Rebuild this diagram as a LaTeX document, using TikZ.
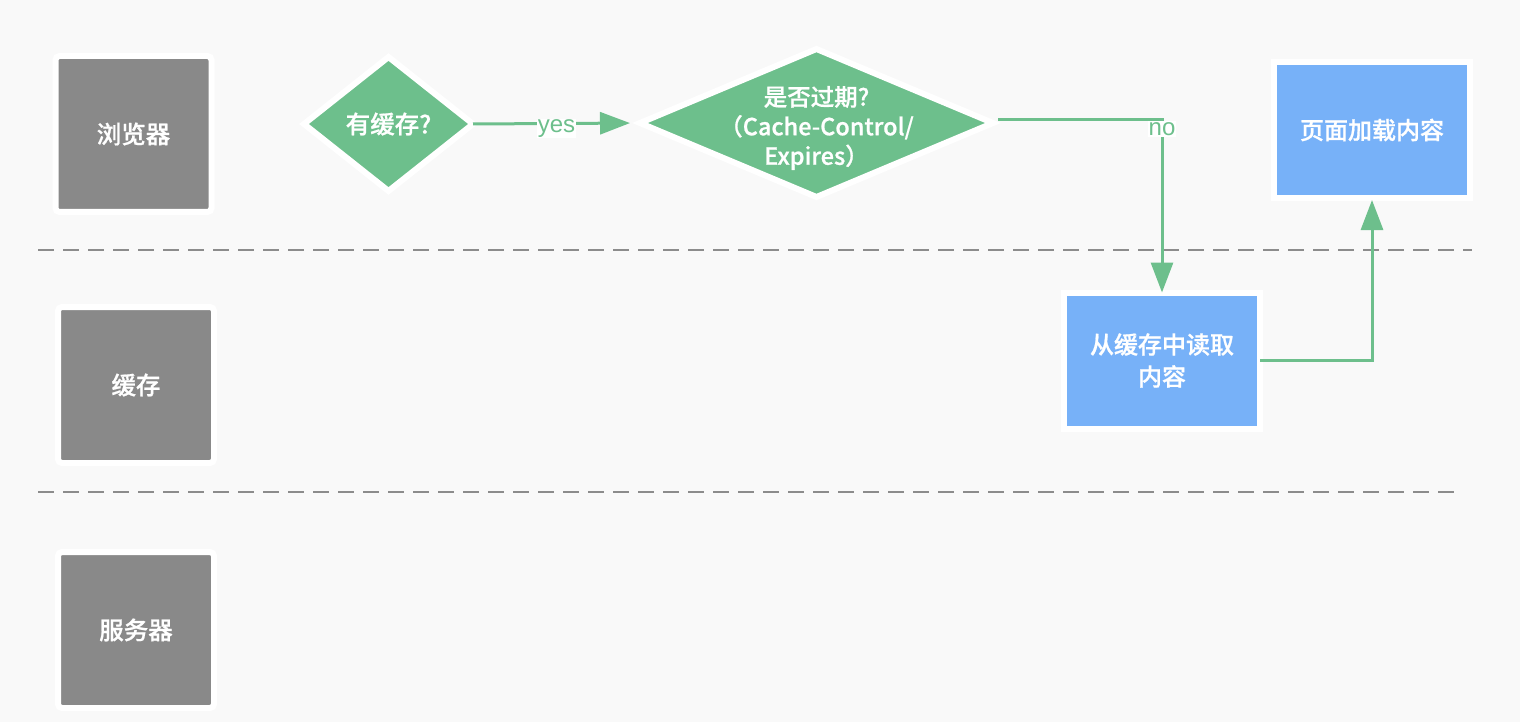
\documentclass[tikz,border=0pt]{standalone}
\usepackage{fontspec}
\usepackage{xcolor}
\usepackage{tikz}
\usetikzlibrary{positioning, arrows.meta, shapes.geometric}
\newfontfamily\cjk{Noto Sans CJK SC Medium}[FakeBold=0.8, AutoFakeBold=0]
\newfontfamily\latinsans{Liberation Sans}
\definecolor{pagebg}   {HTML}{F9F9F9}
\definecolor{lanegray} {HTML}{898989}
\definecolor{lanedash} {HTML}{8C8C8C}
\definecolor{flowgreen}{HTML}{6DBF8C}
\definecolor{stepblue} {HTML}{77B1F8}
\tikzset{
  >={Triangle[length=30pt, width=22pt]},
  lanebox/.style={
    rectangle, draw=white, line width=6pt, rounded corners=4pt,
    fill=lanegray, minimum width=156pt, minimum height=156pt,
    inner sep=0pt, outer sep=0pt, align=center,
    font=\cjk\fontsize{24.5}{29}\selectfont, text=white
  },
  stepbox/.style={
    rectangle, draw=white, line width=6pt,
    fill=stepblue, minimum width=196pt, minimum height=136pt,
    inner sep=0pt, outer sep=0pt, align=center,
    font=\cjk\fontsize{24}{32}\selectfont, text=white
  },
  decision/.style={
    diamond, draw=white, line width=6pt,
    fill=flowgreen, inner sep=0pt, outer sep=0pt, align=center,
    font=\cjk\fontsize{24.5}{29}\selectfont, text=white
  },
  decisiontext/.style={
    align=center, inner sep=0pt, text=white, yshift=-5pt,
    font=\cjk\fontsize{23.5}{29.5}\selectfont
  },
  flow/.style={
    draw=flowgreen, line width=3pt
  },
  flowlabel/.style={
    fill=white, inner sep=1pt, text=flowgreen,
    font=\latinsans\fontsize{24}{24}\selectfont
  },
  lanesep/.style={
    draw=lanedash, line width=2pt, dash pattern=on 16pt off 9pt
  },
}
\begin{document}
\begin{tikzpicture}[x=1pt, y=-1pt]

% ---- Page -----------------------------------------------------------
\fill[pagebg] (0,0) rectangle (1520,722);
\useasboundingbox (0,0) rectangle (1520,722);

% ---- Lanes ----------------------------------------------------------
\node[lanebox] (browser) at (133.5, 134) {浏览器};
\node[lanebox] (cache)   at (136, 385)   {缓存};
\node[lanebox] (server)  at (136, 630)   {服务器};

\draw[lanesep] (38,250) -- (1472,250);
\draw[lanesep] (38,492) -- (1462,492);

% ---- Steps ----------------------------------------------------------
% browser lane: two checks, then the page
\node[decision, minimum width=169pt, minimum height=134pt]
  (hascache) at (388.5, 124) {有缓存?};
\node[decision, minimum width=353pt, minimum height=148pt,
      label={[decisiontext]center:{是否过期?\\（Cache-Control/\\Expires）}}]
  (expired) at (816.5, 123) {};
\node[stepbox] (pageload)  at (1372, 130)   {页面加载内容};

% cache lane
\node[stepbox] (readcache) at (1162, 360.5) {从缓存中读取\\内容};

% ---- Connectors -----------------------------------------------------
\draw[flow, ->, shorten >=10pt] (hascache.east)
  -- node[flowlabel, yshift=-5pt] {yes} (expired.west);
\draw[flow, ->, shorten <=5pt] ([yshift=3pt]expired.east)
  -| node[flowlabel, pos=0.5, yshift=-9pt] {no} (readcache.north);
\draw[flow, ->, shorten >=2pt] (readcache.east) -| (pageload.south);

\end{tikzpicture}
\end{document}
